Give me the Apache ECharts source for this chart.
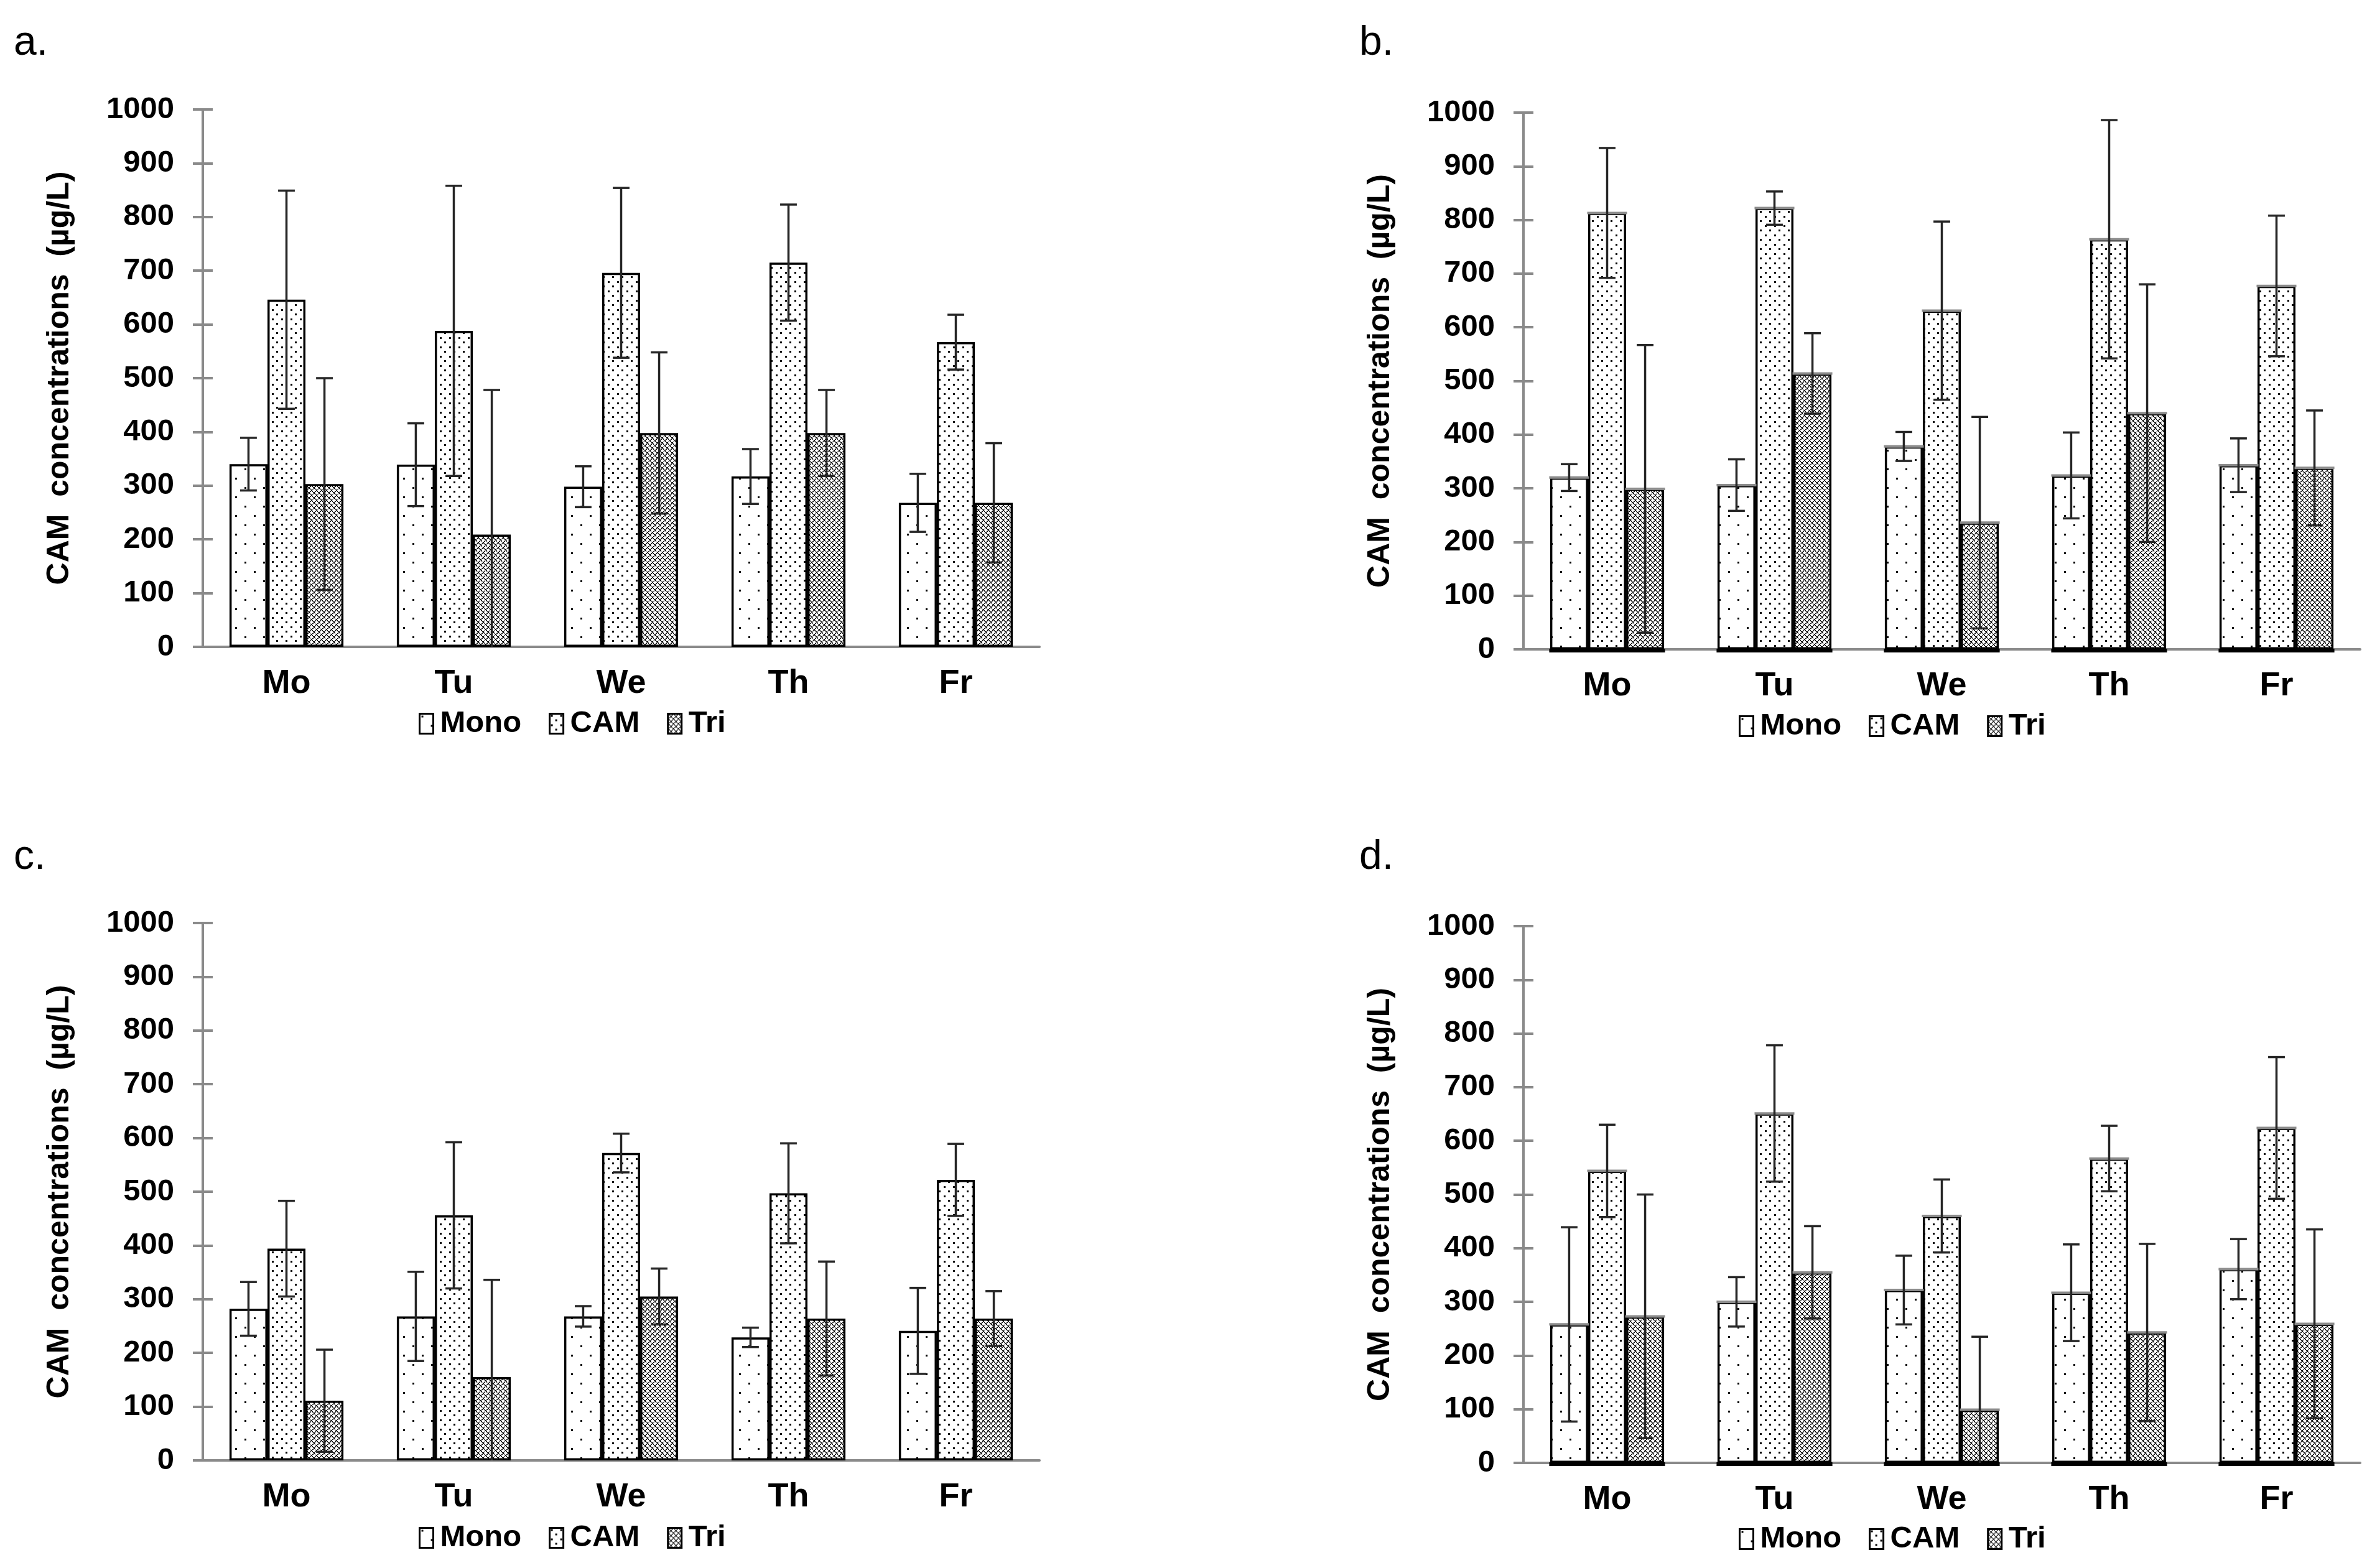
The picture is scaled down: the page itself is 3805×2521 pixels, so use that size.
<!DOCTYPE html>
<html><head><meta charset="utf-8">
<script src="https://cdn.jsdelivr.net/npm/echarts@6/dist/echarts.min.js"></script>
<style>html,body{margin:0;padding:0;background:#fff}#c{width:3805px;height:2521px}</style>
</head><body><div id="c"></div>
<script>
// ---------------- data ----------------
const categories = ['Mo', 'Tu', 'We', 'Th', 'Fr'];
const seriesNames = ['Mono', 'CAM', 'Tri'];
const panelLabels = ['a.', 'b.', 'c.', 'd.'];
const yAxisName = 'CAM  concentrations  (µg/L)';
const yMin = 0, yMax = 1000, yStep = 100;

// panel a
const aMono = [340, 339, 298, 317, 268];
const aMonoSD = [49, 77, 38, 51, 54];
const aCAM = [646, 588, 696, 715, 567];
const aCAMSD = [203, 270, 158, 108, 51];
const aTri = [303, 209, 398, 398, 268];
const aTriSD = [197, 269, 150, 80, 111];
// panel b
const bMono = [320, 306, 378, 324, 343];
const bMonoSD = [25, 48, 27, 80, 50];
const bCAM = [813, 822, 631, 764, 677];
const bCAMSD = [121, 31, 166, 222, 131];
const bTri = [299, 514, 236, 440, 338];
const bTriSD = [268, 75, 197, 240, 107];
// panel c
const cMono = [282, 268, 268, 229, 241];
const cMonoSD = [50, 83, 19, 18, 80];
const cCAM = [394, 456, 572, 497, 522];
const cCAMSD = [89, 136, 36, 93, 67];
const cTri = [111, 155, 305, 264, 264];
const cTriSD = [95, 181, 52, 106, 51];
// panel d
const dMono = [258, 300, 322, 317, 361];
const dMonoSD = [181, 46, 64, 90, 56];
const dCAM = [544, 651, 460, 567, 624];
const dCAMSD = [86, 127, 68, 61, 132];
const dTri = [273, 355, 99, 243, 259];
const dTriSD = [227, 86, 136, 165, 176];

// ---------------- styling / layout ----------------
const FONT = "'Liberation Sans', Arial, sans-serif";
const AXIS_GRAY = '#8a8a8a';
const BAR_FRAC = 0.227;

const panels = [
  { label: panelLabels[0], vals: [aMono, aCAM, aTri], sds: [aMonoSD, aCAMSD, aTriSD], excel: false,
    grid: { left: 326, top: 176, width: 1345, height: 864 }, legend: { left: 668, top: 1134 }, title: { x: 22, y: 71 } },
  { label: panelLabels[1], vals: [bMono, bCAM, bTri], sds: [bMonoSD, bCAMSD, bTriSD], excel: true,
    grid: { left: 2449, top: 181, width: 1345, height: 863 }, legend: { left: 2790, top: 1138 }, title: { x: 2185, y: 71 } },
  { label: panelLabels[2], vals: [cMono, cCAM, cTri], sds: [cMonoSD, cCAMSD, cTriSD], excel: false,
    grid: { left: 326, top: 1484, width: 1345, height: 864 }, legend: { left: 668, top: 2443 }, title: { x: 22, y: 1380 } },
  { label: panelLabels[3], vals: [dMono, dCAM, dTri], sds: [dMonoSD, dCAMSD, dTriSD], excel: true,
    grid: { left: 2449, top: 1489, width: 1345, height: 863 }, legend: { left: 2790, top: 2445 }, title: { x: 2185, y: 1380 } }
];

function makeCanvas(w, h, draw) {
  const c = document.createElement('canvas');
  c.width = w; c.height = h;
  const ctx = c.getContext('2d');
  ctx.fillStyle = '#fff'; ctx.fillRect(0, 0, w, h);
  ctx.fillStyle = '#000';
  draw(ctx);
  return { image: c, repeat: 'repeat' };
}
const patMono = makeCanvas(30, 30, ctx => { ctx.fillRect(3, 3, 3, 3); ctx.fillRect(18, 18, 3, 3); });
const patCAM = makeCanvas(15, 15, ctx => { ctx.fillRect(2, 2, 3, 3); ctx.fillRect(9, 9, 3, 3); });
const patTri = makeCanvas(8, 8, ctx => {
  for (let x = 0; x < 8; x++) for (let y = 0; y < 8; y++) {
    const d1 = (x + y) % 8, d2 = (x - y + 8) % 8;
    if (d1 === 0 || d2 === 0 || (d1 === 1 && y % 2 === 0) || (d2 === 1 && y % 2 === 1)) ctx.fillRect(x, y, 1, 1);
  }
});
const patterns = [patMono, patCAM, patTri];

const option = {
  animation: false,
  backgroundColor: '#fff',
  grid: [], xAxis: [], yAxis: [], series: [], legend: [], graphic: []
};

panels.forEach((p, pi) => {
  option.grid.push(Object.assign({ containLabel: false, outerBoundsMode: 'none' }, p.grid));
  option.xAxis.push({
    type: 'category', gridIndex: pi, data: categories, boundaryGap: true,
    axisLine: { show: true, lineStyle: { color: AXIS_GRAY, width: 4 } },
    axisTick: { show: false },
    axisLabel: { margin: 32, fontSize: 54, fontWeight: 'bold', fontFamily: FONT, color: '#000' },
    splitLine: { show: false }
  });
  option.yAxis.push({
    type: 'value', gridIndex: pi, min: yMin, max: yMax, interval: yStep, position: 'left',
    axisLine: { show: true, lineStyle: { color: AXIS_GRAY, width: 4 } },
    axisTick: { show: true, length: 16, lineStyle: { color: AXIS_GRAY, width: 4 } },
    axisLabel: { margin: 46, fontSize: 49, fontWeight: 'bold', fontFamily: FONT, color: '#000',
      formatter: v => String(v) },
    splitLine: { show: false },
    name: yAxisName, nameLocation: 'middle', nameGap: 205, nameRotate: 90,
    nameTextStyle: { fontSize: 50, fontWeight: 'bold', fontFamily: FONT, color: '#000' }
  });
  // inner half of the crossing ticks
  option.yAxis.push({
    type: 'value', gridIndex: pi, min: yMin, max: yMax, interval: yStep, position: 'right',
    offset: -p.grid.width,
    axisLine: { show: false },
    axisTick: { show: true, length: 16, lineStyle: { color: AXIS_GRAY, width: 4 } },
    axisLabel: { show: false }, splitLine: { show: false }
  });
  seriesNames.forEach((name, s) => {
    option.series.push({
      type: 'bar', name: name, xAxisIndex: pi, yAxisIndex: pi * 2,
      data: p.vals[s], barWidth: (BAR_FRAC * 100) + '%', barGap: '0%',
      itemStyle: { color: patterns[s], borderColor: '#000', borderWidth: 3.5 },
      z: 2
    });
  });
  if (p.excel) {
    // gray top edge of each bar and black base line under each group
    option.series.push({
      type: 'custom', xAxisIndex: pi, yAxisIndex: pi * 2, z: 3, silent: true,
      data: categories.map((c, i) => [i, p.vals[0][i], p.vals[1][i], p.vals[2][i]]),
      encode: { x: 0, y: [1, 2, 3] },
      renderItem: (params, api) => {
        const ci = api.value(0);
        const band = api.size([1, 0])[0];
        const bw = band * BAR_FRAC;
        const cx0 = api.coord([ci, 0])[0];
        const y0 = api.coord([ci, 0])[1];
        const children = [];
        for (let s = 0; s < 3; s++) {
          const cx = cx0 + (s - 1) * bw;
          const yv = api.coord([ci, api.value(s + 1)])[1];
          children.push({ type: 'rect', shape: { x: cx - bw / 2 - 1.5, y: yv - 2, width: bw + 3, height: 4 },
            style: { fill: '#8c8c8c' } });
        }
        children.push({ type: 'rect', shape: { x: cx0 - 1.5 * bw - 1.5, y: y0 - 1, width: 3 * bw + 3, height: 6 },
          style: { fill: '#000' } });
        return { type: 'group', children };
      }
    });
  }
  seriesNames.forEach((name, s) => {
    option.series.push({
      type: 'custom', xAxisIndex: pi, yAxisIndex: pi * 2, z: 5, silent: true,
      data: p.vals[s].map((v, i) => [i, v, p.sds[s][i]]),
      encode: { x: 0, y: 1 },
      renderItem: (params, api) => {
        const ci = api.value(0), v = api.value(1), sd = api.value(2);
        const band = api.size([1, 0])[0];
        const bw = band * BAR_FRAC;
        const cx = api.coord([ci, 0])[0] + (s - 1) * bw;
        const yTop = api.coord([ci, v + sd])[1];
        const lo = v - sd;
        const yBot = api.coord([ci, Math.max(lo, yMin)])[1];
        const cap = bw * 0.22;
        const st = { stroke: '#262626', lineWidth: 3.5 };
        const children = [
          { type: 'line', shape: { x1: cx, y1: yTop, x2: cx, y2: yBot }, style: st },
          { type: 'line', shape: { x1: cx - cap, y1: yTop, x2: cx + cap, y2: yTop }, style: st }
        ];
        if (lo >= yMin) children.push({ type: 'line', shape: { x1: cx - cap, y1: yBot, x2: cx + cap, y2: yBot }, style: st });
        return { type: 'group', children };
      }
    });
  });
  option.legend.push({
    data: seriesNames, left: p.legend.left, top: p.legend.top, orient: 'horizontal',
    icon: 'rect', itemWidth: 22, itemHeight: 32, itemGap: 44, selectedMode: false,
    itemStyle: { borderColor: '#000', borderWidth: 3 },
    textStyle: { fontSize: 49, fontWeight: 'bold', fontFamily: FONT, color: '#000', padding: [0, 0, 0, 6] }
  });
  option.graphic.push({
    type: 'text', left: p.title.x, top: p.title.y - 34,
    style: { text: p.label, font: '66px ' + FONT, fill: '#000' }
  });
});

const chart = echarts.init(document.getElementById('c'), null, { renderer: 'canvas' });
chart.setOption(option);
</script>
</body></html>
